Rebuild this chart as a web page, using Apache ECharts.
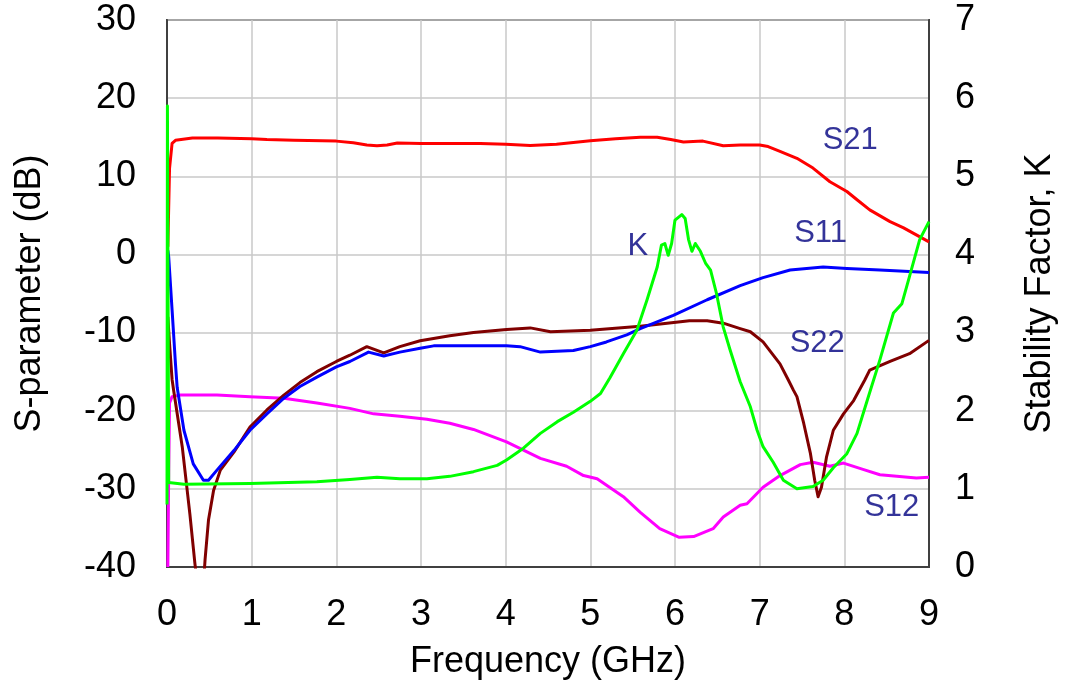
<!DOCTYPE html>
<html>
<head>
<meta charset="utf-8">
<script src="https://cdn.jsdelivr.net/npm/echarts@6/dist/echarts.min.js"></script>
<style>
  html, body { margin: 0; padding: 0; background: #fff; }
  #chart { width: 1066px; height: 684px; }
</style>
</head>
<body>
<div id="chart"></div>
<script>
// Frequency sweep, 0-9 GHz: [GHz, dB] pairs for the S-parameters, [GHz, K] for stability
const s21 = [[0.01, 1], [0.03, 11], [0.06, 14.2], [0.1, 14.6], [0.3, 14.9], [0.6, 14.9], [1.0, 14.8], [1.18, 14.7],
  [1.5, 14.6], [2.0, 14.5], [2.2, 14.3], [2.36, 14.0], [2.48, 13.9], [2.6, 14.0], [2.72, 14.25], [3.0, 14.2],
  [3.34, 14.2], [3.7, 14.2], [4.0, 14.1], [4.29, 13.95], [4.6, 14.1], [5.0, 14.55], [5.3, 14.8], [5.59, 15.0],
  [5.79, 15.0], [5.95, 14.7], [6.1, 14.4], [6.33, 14.5], [6.57, 13.9], [6.77, 14.0], [7.0, 14.0], [7.1, 13.8],
  [7.24, 13.2], [7.44, 12.3], [7.63, 11.05], [7.83, 9.3], [8.03, 8.05], [8.15, 7.0], [8.3, 5.7], [8.54, 4.2],
  [8.7, 3.4], [8.85, 2.5], [9.0, 1.6]];

const s11 = [[0.01, 0.5], [0.02, -0.3], [0.06, -7.1], [0.1, -14], [0.12, -17], [0.2, -22.5], [0.31, -26.8],
  [0.43, -28.9], [0.49, -28.9], [0.59, -27.6], [0.79, -25.1], [0.98, -22.5], [1.18, -20.4], [1.38, -18.4],
  [1.57, -16.9], [1.77, -15.7], [2.0, -14.4], [2.16, -13.7], [2.38, -12.5], [2.56, -13.0], [2.75, -12.5],
  [2.99, -12.0], [3.15, -11.7], [3.34, -11.7], [4.01, -11.7], [4.17, -11.8], [4.41, -12.5], [4.8, -12.3],
  [5.0, -11.8], [5.19, -11.2], [5.43, -10.3], [5.59, -9.5], [5.98, -7.8], [6.38, -5.8], [6.77, -4.0],
  [7.04, -2.97], [7.36, -2.0], [7.75, -1.6], [8.03, -1.8], [8.42, -2.0], [9.0, -2.3]];

const s22 = [[0.01, -8], [0.03, -11.4], [0.06, -16], [0.08, -17.5], [0.18, -24.6], [0.27, -33.2], [0.33, -39.6],
  [0.38, -44], [0.42, -44], [0.45, -39], [0.49, -34.0], [0.55, -30.2], [0.63, -27.6], [0.79, -25.3],
  [0.98, -22.1], [1.18, -19.9], [1.38, -18.0], [1.57, -16.4], [1.77, -15.0], [2.0, -13.7], [2.16, -12.9],
  [2.36, -11.8], [2.56, -12.6], [2.75, -11.8], [2.99, -11.05], [3.34, -10.4], [3.62, -10.0], [4.01, -9.6],
  [4.29, -9.4], [4.53, -9.9], [5.0, -9.7], [5.59, -9.2], [6.17, -8.5], [6.38, -8.5], [6.57, -8.8],
  [6.77, -9.5], [6.89, -9.9], [7.04, -11.2], [7.24, -14.0], [7.34, -16.1], [7.4, -17.4], [7.44, -18.2],
  [7.52, -21.6], [7.6, -25.5], [7.65, -28.9], [7.69, -31.0], [7.73, -29.8], [7.79, -25.9], [7.87, -22.5],
  [7.99, -20.4], [8.11, -18.7], [8.24, -16.1], [8.3, -14.8], [8.54, -13.7], [8.77, -12.7], [9.0, -11.0]];

const s12 = [[0.01, -40], [0.02, -28], [0.03, -19], [0.06, -18.2], [0.16, -18.0], [0.59, -18.0], [0.98, -18.2],
  [1.38, -18.4], [1.77, -19.0], [2.16, -19.7], [2.44, -20.4], [2.75, -20.7], [3.07, -21.1], [3.34, -21.6],
  [3.62, -22.4], [4.01, -24.0], [4.41, -26.1], [4.72, -27.1], [4.92, -28.3], [5.08, -28.7], [5.39, -31.0],
  [5.59, -33.0], [5.82, -35.1], [6.05, -36.2], [6.22, -36.1], [6.45, -35.1], [6.57, -33.6], [6.77, -32.1],
  [6.85, -31.9], [7.04, -29.8], [7.24, -28.3], [7.48, -26.9], [7.63, -26.6], [7.83, -27.1], [7.99, -26.7],
  [8.22, -27.5], [8.42, -28.2], [8.62, -28.4], [8.85, -28.6], [9.0, -28.5]];

const kFactor = [[0.0, 0.8], [0.005, 5.9], [0.02, 1.08], [0.2, 1.06], [0.98, 1.07], [1.77, 1.09], [2.16, 1.12],
  [2.48, 1.15], [2.75, 1.13], [3.07, 1.13], [3.34, 1.16], [3.62, 1.22], [3.9, 1.30], [4.01, 1.37], [4.21, 1.52],
  [4.41, 1.71], [4.61, 1.86], [4.8, 1.98], [5.0, 2.12], [5.12, 2.22], [5.23, 2.42], [5.39, 2.73], [5.55, 3.03],
  [5.67, 3.42], [5.79, 3.84], [5.84, 4.12], [5.88, 4.14], [5.92, 3.99], [5.96, 4.14], [6.0, 4.44], [6.08, 4.51],
  [6.12, 4.46], [6.16, 4.19], [6.2, 4.04], [6.24, 4.14], [6.3, 4.04], [6.36, 3.89], [6.42, 3.80], [6.49, 3.50],
  [6.57, 3.07], [6.65, 2.78], [6.77, 2.37], [6.89, 2.05], [6.97, 1.75], [7.04, 1.54], [7.16, 1.34], [7.28, 1.11],
  [7.44, 1.00], [7.63, 1.03], [7.75, 1.11], [7.87, 1.27], [8.03, 1.45], [8.15, 1.71], [8.27, 2.13], [8.42, 2.65],
  [8.58, 3.25], [8.68, 3.37], [8.77, 3.72], [8.89, 4.19], [9.0, 4.42]];

// Curve tags placed in (GHz, dB) coordinates
const tagNames = ['S21', 'S11', 'S22', 'S12', 'K'];
const tagFreq = [8.07, 7.72, 7.68, 8.56, 5.56];
const tagDb = [14.55, 2.63, -11.35, -32.4, 0.96];

const FONT = '"Liberation Sans", Arial, sans-serif';
const AXIS_FONT = 36;

const chart = echarts.init(document.getElementById('chart'), null, { renderer: 'canvas' });

function curve(name, data, color, yAxisIndex) {
  return {
    name, type: 'line', data, yAxisIndex: yAxisIndex || 0,
    showSymbol: false, symbol: 'none', clip: true,
    lineStyle: { color, width: 3, join: 'round' },
    z: 3
  };
}

chart.setOption({
  animation: false,
  backgroundColor: '#ffffff',
  textStyle: { fontFamily: FONT },
  grid: {
    left: 167, right: 137, top: 20, bottom: 117,
    show: true, borderColor: '#404040', borderWidth: 2,
    containLabel: false, outerBoundsMode: 'none'
  },
  xAxis: {
    type: 'value', min: 0, max: 9, interval: 1,
    name: 'Frequency (GHz)', nameLocation: 'middle', nameGap: 77,
    nameTextStyle: { fontSize: AXIS_FONT, color: '#000', fontFamily: FONT },
    axisLine: { show: true, onZero: false, lineStyle: { color: '#404040', width: 2 } },
    axisTick: { show: false },
    axisLabel: { fontSize: AXIS_FONT, color: '#000', margin: 30, fontFamily: FONT },
    splitLine: { show: true, lineStyle: { color: '#c8c8c8', width: 1.5 } }
  },
  yAxis: [{
    type: 'value', min: -40, max: 30, interval: 10, position: 'left',
    name: 'S-parameter (dB)', nameLocation: 'middle', nameGap: 119, nameRotate: 90,
    nameTextStyle: { fontSize: AXIS_FONT, color: '#000', fontFamily: FONT },
    axisLine: { show: true, onZero: false, lineStyle: { color: '#404040', width: 2 } },
    axisTick: { show: false },
    axisLabel: { fontSize: AXIS_FONT, color: '#000', margin: 31, fontFamily: FONT },
    splitLine: { show: true, lineStyle: { color: '#c8c8c8', width: 1.5 } }
  }, {
    type: 'value', min: 0, max: 7, interval: 1, position: 'right',
    name: 'Stability Factor, K', nameLocation: 'middle', nameGap: 93, nameRotate: 90,
    nameTextStyle: { fontSize: AXIS_FONT, color: '#000', fontFamily: FONT },
    axisLine: { show: true, onZero: false, lineStyle: { color: '#404040', width: 2 } },
    axisTick: { show: false },
    axisLabel: { fontSize: AXIS_FONT, color: '#000', margin: 26, fontFamily: FONT },
    splitLine: { show: false }
  }],
  series: [
    curve('S12', s12, '#ff00ff'),
    curve('S22', s22, '#800000'),
    curve('S11', s11, '#0000ff'),
    curve('S21', s21, '#ff0000'),
    curve('K', kFactor, '#00ff00', 1),
    {
      name: 'tags', type: 'scatter', symbolSize: 0, silent: true, z: 5,
      data: tagNames.map((n, i) => ({ name: n, value: [tagFreq[i], tagDb[i]] })),
      label: {
        show: true, position: 'inside', formatter: p => p.name,
        fontSize: 31, color: '#000080', fontFamily: FONT
      }
    }
  ]
});
</script>
</body>
</html>
